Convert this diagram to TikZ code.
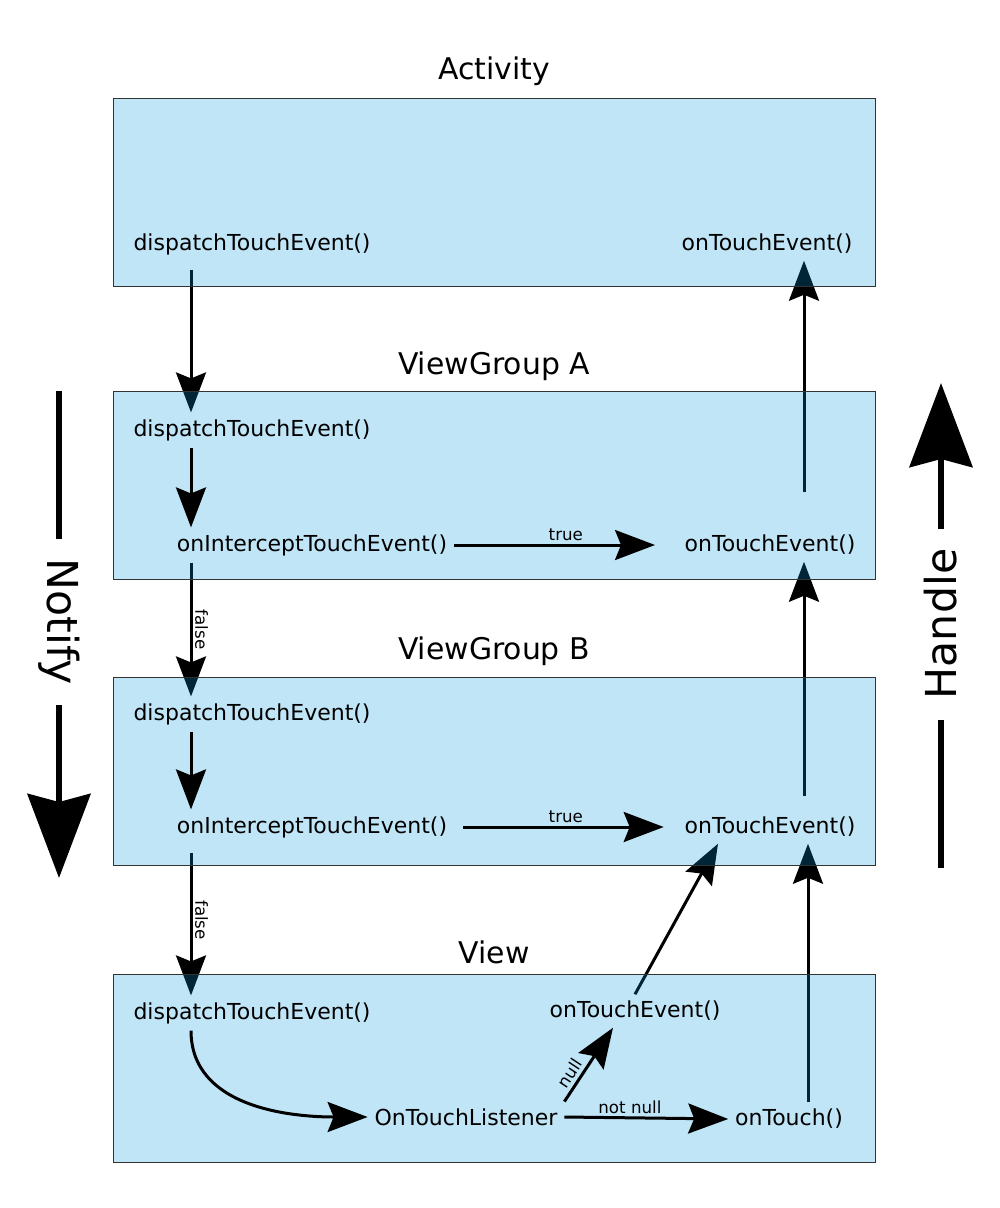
\documentclass[tikz,border=0pt]{standalone}
\usepackage{fontspec}
\setmainfont{DejaVu Sans}
\usetikzlibrary{arrows.meta}
\pgfdeclarelayer{front}
\pgfsetlayers{main,front}
\definecolor{boxblue}{RGB}{0,150,220}

\tikzset{
  layer/.style={fill=boxblue, fill opacity=0.25, draw=black!80, line width=0.75pt},
  method/.style={font=\fontsize{16.5}{19}\selectfont, inner sep=5pt},
  title/.style={font=\fontsize{22.4}{26}\selectfont},
  cond/.style={font=\fontsize{12.5}{15}\selectfont, inner sep=2pt},
  side/.style={font=\fontsize{32}{38}\selectfont, inner sep=15pt},
  flow/.style={line width=2.25pt, -{Stealth[length=30pt,width=22.5pt,inset=4.5pt]}},
  bigflow/.style={line width=5pt, -{Stealth[length=63pt,width=47pt,inset=6pt]}}
}

\begin{document}
\begin{tikzpicture}[x=0.75pt, y=-0.75pt]

\useasboundingbox (0,0) rectangle (1000,1208);

\begin{pgfonlayer}{front}
\node[title] (actTitle) at (494,71) {Activity};
\node[title] (vgaTitle) at (494,366) {ViewGroup A};
\node[title] (vgbTitle) at (494,651) {ViewGroup B};
\node[title] (vTitle) at (494,952) {View};

\node[method] (actDispatch) at (252,244) {dispatchTouchEvent()};
\node[method] (actTouch) at (767,244) {onTouchEvent()};

\node[method] (vgaDispatch) at (252,430) {dispatchTouchEvent()};
\node[method] (vgaIntercept) at (312,545) {onInterceptTouchEvent()};
\node[method] (vgaTouch) at (770,545) {onTouchEvent()};

\node[method] (vgbDispatch) at (252,714) {dispatchTouchEvent()};
\node[method] (vgbIntercept) at (312,827) {onInterceptTouchEvent()};
\node[method] (vgbTouch) at (770,827) {onTouchEvent()};

\node[method] (vDispatch) at (252,1013) {dispatchTouchEvent()};
\node[method] (vTouchEvent) at (635,1011) {onTouchEvent()};
\node[method] (vListener) at (466,1117) {OnTouchListener};
\node[method] (vOnTouch) at (789,1119) {onTouch()};

\node[side, rotate=-90] (notifyLabel) at (59,622) {Notify};
\node[side, rotate=90] (handleLabel) at (941,624) {Handle};
\end{pgfonlayer}

\coordinate (ncol) at (191,0);
\coordinate (tcol) at (804,0);
\coordinate (ocol) at (808,0);
\coordinate (notifyTop) at (59,391);
\coordinate (notifyEnd) at (59,878);
\coordinate (handleBottom) at (941,868);
\coordinate (handleTop) at (941,383);

\draw[line width=5pt] (notifyTop) -- (notifyLabel.west);
\draw[bigflow] (notifyLabel.east) -- (notifyEnd);
\draw[line width=5pt] (handleBottom) -- (handleLabel.west);
\draw[bigflow] (handleLabel.east) -- (handleTop);

\draw[flow, shorten <=6pt] (actDispatch.south -| ncol) -- (vgaDispatch.north -| ncol);
\draw[flow] (vgaIntercept.south -| ncol) -- node[cond, sloped, above] {false} (vgbDispatch.north -| ncol);
\draw[flow, shorten <=27pt] (vgaTouch.north -| tcol) -- (actTouch.south -| tcol);
\draw[flow, shorten <=6pt] (vgbIntercept.south -| ncol) -- node[cond, sloped, above] {false} (vDispatch.north -| ncol);
\draw[flow, shorten <=11pt] (vgbTouch.north -| tcol) -- (vgaTouch.south -| tcol);
\draw[flow] (vTouchEvent.north) -- ([xshift=-39pt]vgbTouch.south);
\draw[flow] (vOnTouch.north -| ocol) -- (vgbTouch.south -| ocol);

\begin{pgfonlayer}{front}
\draw[flow] (vgaDispatch.south -| ncol) -- (vgaIntercept.north -| ncol);
\draw[flow, shorten >=17pt] (vgaIntercept.east) -- node[cond, above] {true} (vgaTouch.west);
\draw[flow] (vgbDispatch.south -| ncol) -- (vgbIntercept.north -| ncol);
\draw[flow, shorten <=7pt, shorten >=10.5pt] (vgbIntercept.east) -- node[cond, above] {true} (vgbTouch.west);
\draw[flow] (vDispatch.south -| ncol) to[out=-90, in=180] (vListener.west);
\draw[flow] (vListener.east) -- node[cond, above, pos=0.4] {not null} (vOnTouch.west);
\draw[flow] (vListener.north east) -- node[cond, sloped, above=1.5pt, pos=0.3, inner sep=1pt] {null} ([xshift=-16.5pt]vTouchEvent.south);
\end{pgfonlayer}

\filldraw[layer] (113,98) rectangle (875,286);
\filldraw[layer] (113,391) rectangle (875,579);
\filldraw[layer] (113,677) rectangle (875,865);
\filldraw[layer] (113,974) rectangle (875,1162);

\end{tikzpicture}
\end{document}
